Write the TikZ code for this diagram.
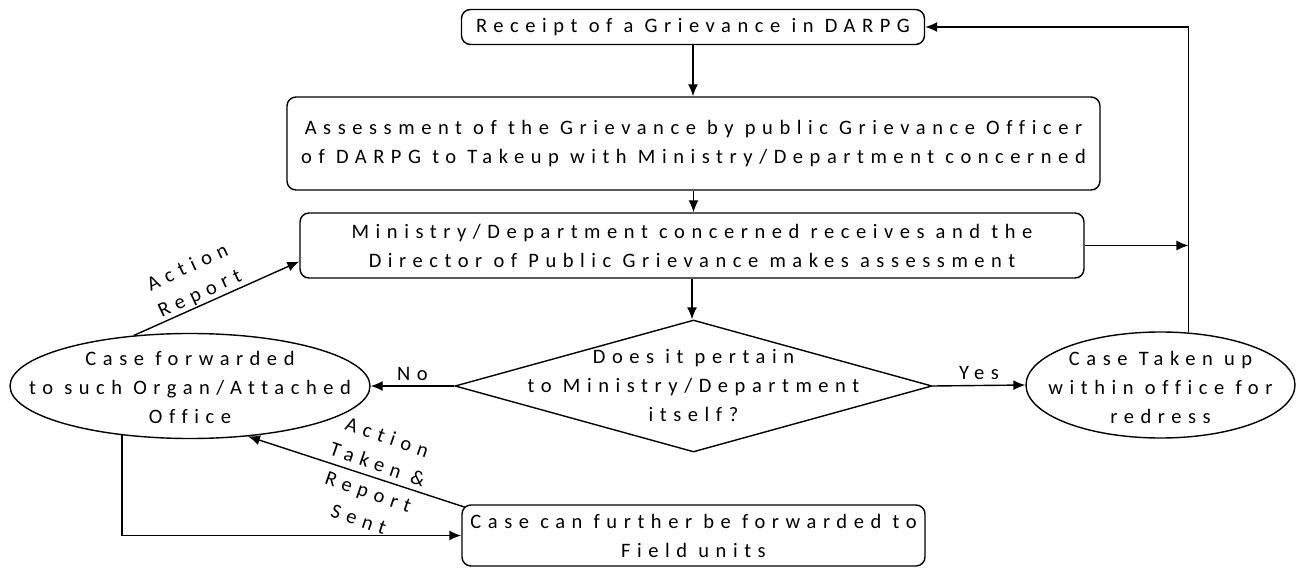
\documentclass[tikz,border=0pt]{standalone}
\usepackage{fontspec}
\setmainfont{Carlito}[LetterSpace=32,Ligatures={NoCommon}]
\usetikzlibrary{arrows.meta,shapes.geometric}
\begin{document}
\begin{tikzpicture}[x=1pt,y=-1pt,
  every node/.style={font=\fontsize{20.5}{29}\selectfont, align=center, inner sep=0pt},
  box/.style={draw, rounded corners=9pt, line width=1.4pt},
  oval/.style={draw, ellipse, line width=1.4pt},
  arr/.style={line width=1.4pt, -{Latex[length=12pt,width=10pt]}}]
\useasboundingbox (0,0) rectangle (1298,569);
\node[box, minimum width=463pt, minimum height=35pt] (rec) at (693,27) {Receipt of a Grievance in DARPG};
\node[box, minimum width=813pt, minimum height=93pt] (ass) at (693.5,143.5) {Assessment of the Grievance by public Grievance Officer\\of DARPG to Takeup with Ministry/Department concerned};
\node[box, minimum width=784pt, minimum height=65pt] (min) at (692,245.5) {Ministry/Department concerned receives and the\\Director of Public Grievance makes assessment};
\node[draw, diamond, line width=1.4pt, minimum width=477pt, minimum height=132pt, inner sep=0pt] (dia) at (693.5,386) {};
\node (diat) at (dia.center) {Does it pertain\\to Ministry/Department\\itself?};
\node[oval, minimum width=360pt, minimum height=105pt] (e1) at (190,386) {};
\node (e1t) at ([yshift=-1pt]e1.center) {Case forwarded\\to such Organ/Attached\\Office};
\node[oval, minimum width=269pt, minimum height=106pt] (e2) at (1160.5,385) {};
\node (e2t) at ([yshift=-2pt]e2.center) {Case Taken up\\within office for\\redress};
\node[box, minimum width=463pt, minimum height=61pt] (fld) at (693.5,535.5) {Case can further be forwarded to\\Field units};

\draw[arr] (rec.south) -- (rec.south |- ass.north);
\draw[arr] (ass.south) -- (ass.south |- min.north);
\draw[arr] (min.south) -- (min.south |- dia.north);
\draw[arr] (dia.west) -- node[above=5pt] (no) {No} (e1.east);
\draw[arr] (dia.east) -- node[above=5pt] (yes) {Yes} (e2.west);
\draw[arr] (e2.62) |- (rec.east);
\draw[arr] (min.east) -- (min.east -| e2.62);
\draw[arr] (e1.138) -- ([yshift=-16pt]min.west);
\draw[arr] ([xshift=4pt,yshift=-3pt]fld.north west) -- (e1.-41);
\draw[arr] (e1.216) |- (fld.west);

\node[rotate=25] (lab1) at (194,281) {Action\\Report};
\node[rotate=-19] (lab2) at (373,478) {Action\\Taken \&\\Report\\Sent};
\end{tikzpicture}
\end{document}
